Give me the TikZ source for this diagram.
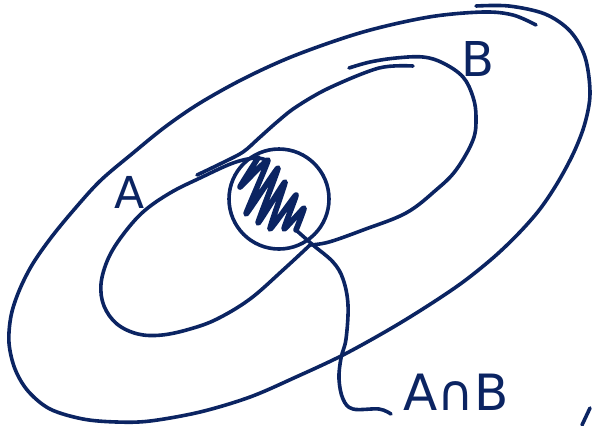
\documentclass[tikz,border=0pt]{standalone}
\usepackage{fontspec}
\newfontfamily\hand{DejaVu Sans}
\definecolor{ink}{HTML}{0B2462}
\begin{document}
\begin{tikzpicture}[x=0.5pt,y=-0.5pt,
  pen/.style={draw=ink,line width=1.8pt,line cap=round,line join=round},
  thickpen/.style={draw=ink,line width=2.8pt,line cap=round,line join=round},
  lbl/.style={text=ink,font=\hand,inner sep=0pt}]
\useasboundingbox (0,0) rectangle (592,425);
% outer universe
\draw[pen] plot[smooth,tension=0.55] coordinates {(476,6) (509,6) (545,14) (570,31) (585,57) (590,93) (585,123) (574,152) (558,182) (540,209) (519,233) (494,257) (463,282) (429,305) (390,329) (343,355) (296,377) (250,397) (200,412) (150,421) (117,422) (83,419) (50,409) (28,391) (15,369) (9,343) (11,316) (19,291) (32,265) (50,239) (72,212) (100,181) (133,153) (165,127) (200,103) (245,78) (296,55) (363,32) (429,17) (483,12) (513,15) (536,25)};
% set B
\draw[pen] plot[smooth,tension=0.6] coordinates {(349,68) (370,62) (396,58) (423,57) (443,63) (463,77) (473,97) (476,117) (473,140) (456,170) (436,190) (406,213) (363,230) (329,242) (310,245)};
\draw[pen] plot[smooth,tension=0.55] coordinates {(197,175) (222,163) (243,152) (259,138) (277,122) (296,107) (329,88) (379,68) (413,66)};
% set A
\draw[pen] plot[smooth,tension=0.6] coordinates {(310,245) (283,270) (250,299) (217,319) (190,329) (162,335) (138,334) (117,324) (104,306) (101,284) (108,259) (122,236) (143,212) (170,193) (200,178) (233,163) (255,158) (266,160)};
% intersection circle
\node[pen,circle,minimum size=50pt,inner sep=0pt] (cap) at (279,199) {};
% scribble
\coordinate (lstart) at (296,230);
\draw[thickpen] plot[smooth,tension=0.25] coordinates {(258,158) (240,187) (268,160) (246,214) (278,168) (258,223) (285,182) (270,229) (296,195) (284,229) (304,208) (lstart)};
% label leader
\coordinate (lend) at (391,414);
\draw[pen] plot[smooth,tension=0.6] coordinates {(lstart) (313,245) (333,262) (343,279) (348,305) (346,339) (341,358) (339,379) (343,399) (353,409) (379,409) (lend)};
% labels
\node[lbl,font=\hand\fontsize{22}{22}\selectfont] (labA) at (130,192) {A};
\node[lbl,font=\hand\fontsize{24}{24}\selectfont] (labB) at (478,59) {B};
\node[lbl,font=\hand\fontsize{25}{25}\selectfont] (labAB) at (456,392) {A∩B};
% cut-off stroke at the lower right edge
\coordinate (cutA) at (582,425);
\coordinate (cutB) at (590,408);
\draw[pen] (cutA) -- (cutB);
\end{tikzpicture}
\end{document}
